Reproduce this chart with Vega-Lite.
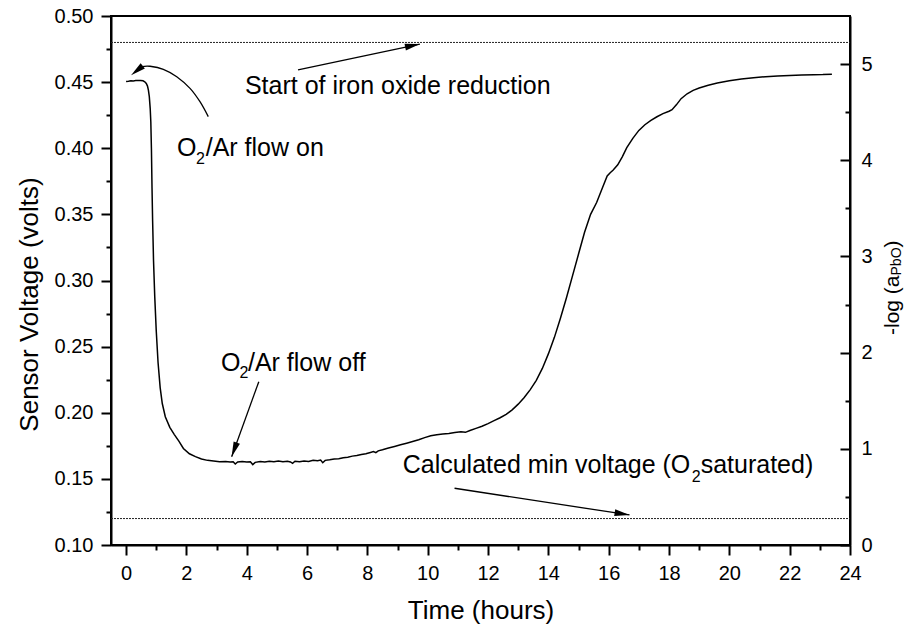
{
  "$schema": "https://vega.github.io/schema/vega-lite/v6.json",
  "width": 739,
  "height": 529,
  "autosize": "none",
  "padding": {"left": 111, "top": 16, "right": 54, "bottom": 83},
  "background": "white",
  "config": {
    "view": {"stroke": "black", "strokeWidth": 2},
    "font": "Liberation Sans",
    "axis": {
      "domainColor": "black", "domainWidth": 2, "tickColor": "black", "tickWidth": 2,
      "labelColor": "black", "titleColor": "black", "labelFont": "Liberation Sans",
      "titleFont": "Liberation Sans", "titleFontWeight": "normal", "grid": false,
      "labelFontSize": 20, "labelOverlap": false, "labelFlush": false, "labelBound": false
    }
  },
  "datasets": {
    "curve": [
      {"t":0.00,"v":0.4505},{"t":0.08,"v":0.4507},{"t":0.16,"v":0.4510},{"t":0.24,"v":0.4509},{"t":0.32,"v":0.4512},{"t":0.40,"v":0.4513},{"t":0.48,"v":0.4512},{"t":0.56,"v":0.4510},{"t":0.62,"v":0.4503},{"t":0.67,"v":0.4490},{"t":0.71,"v":0.4470},{"t":0.74,"v":0.4440},{"t":0.77,"v":0.4390},{"t":0.80,"v":0.4300},{"t":0.82,"v":0.4200},{"t":0.84,"v":0.4000},{"t":0.86,"v":0.3700},{"t":0.88,"v":0.3450},{"t":0.91,"v":0.3150},{"t":0.95,"v":0.2880},{"t":1.00,"v":0.2620},{"t":1.06,"v":0.2380},{"t":1.13,"v":0.2190},{"t":1.20,"v":0.2070},{"t":1.30,"v":0.1970},{"t":1.45,"v":0.1890},{"t":1.60,"v":0.1835},{"t":1.75,"v":0.1785},{"t":1.90,"v":0.1730},{"t":2.10,"v":0.1690},{"t":2.30,"v":0.1668},{"t":2.50,"v":0.1650},{"t":2.70,"v":0.1640},{"t":2.90,"v":0.1635},{"t":3.10,"v":0.1630},{"t":3.30,"v":0.1632},{"t":3.45,"v":0.1627},{"t":3.55,"v":0.1630},{"t":3.62,"v":0.1612},{"t":3.70,"v":0.1628},{"t":3.85,"v":0.1632},{"t":4.00,"v":0.1628},{"t":4.12,"v":0.1630},{"t":4.20,"v":0.1608},{"t":4.28,"v":0.1625},{"t":4.45,"v":0.1632},{"t":4.60,"v":0.1628},{"t":4.75,"v":0.1634},{"t":4.90,"v":0.1630},{"t":5.05,"v":0.1636},{"t":5.20,"v":0.1630},{"t":5.35,"v":0.1634},{"t":5.45,"v":0.1628},{"t":5.52,"v":0.1618},{"t":5.60,"v":0.1633},{"t":5.75,"v":0.1630},{"t":5.90,"v":0.1636},{"t":6.05,"v":0.1632},{"t":6.20,"v":0.1640},{"t":6.35,"v":0.1637},{"t":6.45,"v":0.1642},{"t":6.52,"v":0.1622},{"t":6.60,"v":0.1640},{"t":6.75,"v":0.1644},{"t":6.90,"v":0.1650},{"t":7.05,"v":0.1653},{"t":7.20,"v":0.1660},{"t":7.35,"v":0.1664},{"t":7.50,"v":0.1672},{"t":7.65,"v":0.1676},{"t":7.80,"v":0.1684},{"t":7.95,"v":0.1690},{"t":8.10,"v":0.1700},{"t":8.20,"v":0.1706},{"t":8.28,"v":0.1698},{"t":8.36,"v":0.1712},{"t":8.50,"v":0.1720},{"t":8.70,"v":0.1733},{"t":8.90,"v":0.1745},{"t":9.10,"v":0.1758},{"t":9.30,"v":0.1770},{"t":9.50,"v":0.1783},{"t":9.70,"v":0.1796},{"t":9.90,"v":0.1812},{"t":10.10,"v":0.1826},{"t":10.30,"v":0.1834},{"t":10.50,"v":0.1840},{"t":10.70,"v":0.1844},{"t":10.90,"v":0.1850},{"t":11.10,"v":0.1856},{"t":11.25,"v":0.1852},{"t":11.40,"v":0.1866},{"t":11.60,"v":0.1882},{"t":11.80,"v":0.1898},{"t":12.00,"v":0.1918},{"t":12.20,"v":0.1940},{"t":12.40,"v":0.1962},{"t":12.60,"v":0.1988},{"t":12.80,"v":0.2022},{"t":13.00,"v":0.2065},{"t":13.20,"v":0.2115},{"t":13.40,"v":0.2175},{"t":13.60,"v":0.2245},{"t":13.80,"v":0.2335},{"t":14.00,"v":0.2445},{"t":14.20,"v":0.2570},{"t":14.40,"v":0.2715},{"t":14.60,"v":0.2870},{"t":14.80,"v":0.3035},{"t":15.00,"v":0.3200},{"t":15.20,"v":0.3365},{"t":15.40,"v":0.3500},{"t":15.60,"v":0.3590},{"t":15.80,"v":0.3705},{"t":15.95,"v":0.3790},{"t":16.05,"v":0.3815},{"t":16.15,"v":0.3835},{"t":16.30,"v":0.3875},{"t":16.45,"v":0.3935},{"t":16.60,"v":0.4005},{"t":16.80,"v":0.4075},{"t":17.00,"v":0.4135},{"t":17.20,"v":0.4178},{"t":17.40,"v":0.4210},{"t":17.60,"v":0.4238},{"t":17.80,"v":0.4262},{"t":18.00,"v":0.4280},{"t":18.10,"v":0.4292},{"t":18.25,"v":0.4330},{"t":18.40,"v":0.4375},{"t":18.60,"v":0.4412},{"t":18.80,"v":0.4438},{"t":19.00,"v":0.4456},{"t":19.30,"v":0.4476},{"t":19.60,"v":0.4494},{"t":20.00,"v":0.4510},{"t":20.40,"v":0.4523},{"t":20.80,"v":0.4533},{"t":21.20,"v":0.4541},{"t":21.60,"v":0.4546},{"t":22.00,"v":0.4550},{"t":22.40,"v":0.4553},{"t":22.80,"v":0.4556},{"t":23.10,"v":0.4557},{"t":23.40,"v":0.4560}
    ],
    "refs": [
      {"id":"hi","t":-0.5,"v":0.48},{"id":"hi","t":24,"v":0.48},
      {"id":"lo","t":-0.5,"v":0.12},{"id":"lo","t":24,"v":0.12}
    ],
    "arrows": [
      {"id":"a1","i":0,"t":5.70,"v":0.4592},{"id":"a1","i":1,"t":9.74,"v":0.4788},
      {"id":"a2","i":0,"t":10.89,"v":0.1429},{"id":"a2","i":1,"t":16.69,"v":0.1227},
      {"id":"a3","i":0,"t":4.40,"v":0.2235},{"id":"a3","i":1,"t":3.50,"v":0.1668},
      {"id":"a4","i":0,"t":2.725,"v":0.4239},{"id":"a4","i":1,"t":2.45,"v":0.4352},{"id":"a4","i":2,"t":2.12,"v":0.4453},{"id":"a4","i":3,"t":1.68,"v":0.4541},{"id":"a4","i":4,"t":1.235,"v":0.4597},{"id":"a4","i":5,"t":0.795,"v":0.4620},{"id":"a4","i":6,"t":0.52,"v":0.4618}
    ],
    "heads": [
      {"t":9.74,"v":0.4788,"ang":78},
      {"t":16.69,"v":0.1227,"ang":99},
      {"t":3.50,"v":0.1668,"ang":200},
      {"t":0.166,"v":0.4552,"ang":231}
    ],
    "notes": [
      {"kind":"main","txt":"Start of iron oxide reduction","t":3.94,"v":0.4408},
      {"kind":"main","txt":"O","t":1.69,"v":0.3939},
      {"kind":"sub","txt":"2","t":2.32,"v":0.3880},
      {"kind":"main","txt":"/Ar flow on","t":2.64,"v":0.3939},
      {"kind":"main","txt":"O","t":3.15,"v":0.2319},
      {"kind":"sub","txt":"2","t":3.76,"v":0.2265},
      {"kind":"main","txt":"/Ar flow off","t":4.04,"v":0.2319},
      {"kind":"main","txt":"Calculated min voltage (O","t":9.17,"v":0.1544},
      {"kind":"sub","txt":"2","t":18.75,"v":0.1479},
      {"kind":"main","txt":"saturated)","t":19.05,"v":0.1544},
      {"kind":"rt","txt":"-log (a","t":25.63,"v":0.2588},
      {"kind":"rsub","txt":"PbO","t":25.70,"v":0.3038},
      {"kind":"rt","txt":")","t":25.63,"v":0.3250}
    ],
    "rax": [{"r":0},{"r":5.5}]
  },
  "layer": [
    {
      "encoding": {
        "x": {
          "field": "t", "type": "quantitative",
          "scale": {"domain": [-0.5, 24], "nice": false, "zero": false},
          "axis": {
            "values": [0,1,2,3,4,5,6,7,8,9,10,11,12,13,14,15,16,17,18,19,20,21,22,23,24],
            "labelExpr": "datum.value % 2 == 0 ? datum.label : ''",
            "tickSize": {"condition": {"test": "datum.value % 2 == 0", "value": 10}, "value": 5},
            "labelPadding": 8,
            "title": "Time (hours)", "titleFontSize": 26, "titlePadding": 14
          }
        },
        "y": {
          "field": "v", "type": "quantitative",
          "scale": {"domain": [0.1, 0.5], "nice": false, "zero": false},
          "axis": {
            "orient": "left",
            "values": [0.1,0.125,0.15,0.175,0.2,0.225,0.25,0.275,0.3,0.325,0.35,0.375,0.4,0.425,0.45,0.475,0.5],
            "format": ".2f",
            "labelExpr": "abs(datum.value*20 - round(datum.value*20)) < 0.001 ? datum.label : ''",
            "tickSize": {"condition": {"test": "abs(datum.value*20 - round(datum.value*20)) < 0.001", "value": 10}, "value": 5},
            "labelPadding": 8,
            "title": "Sensor Voltage (volts)", "titleFontSize": 26, "titlePadding": 12, "titleY": 288
          }
        }
      },
      "layer": [
        {
          "data": {"name": "refs"},
          "mark": {"type": "line", "color": "#222", "strokeWidth": 1, "strokeDash": [2, 1]},
          "encoding": {"detail": {"field": "id"}}
        },
        {
          "data": {"name": "curve"},
          "mark": {"type": "line", "color": "black", "strokeWidth": 1.5},
          "encoding": {}
        },
        {
          "data": {"name": "arrows"},
          "mark": {"type": "line", "color": "black", "strokeWidth": 1.3, "interpolate": "cardinal"},
          "encoding": {"detail": {"field": "id"}, "order": {"field": "i", "type": "quantitative"}}
        },
        {
          "data": {"name": "heads"},
          "mark": {"type": "point", "shape": "M0,0L-0.45,2L0.45,2Z", "filled": true, "color": "black", "opacity": 1, "size": 225, "strokeWidth": 0},
          "encoding": {"angle": {"field": "ang", "type": "quantitative", "scale": null}}
        },
        {
          "data": {"name": "notes"},
          "transform": [{"filter": "datum.kind == 'main'"}],
          "mark": {"type": "text", "align": "left", "baseline": "alphabetic", "fontSize": 25, "font": "Liberation Sans", "color": "black"},
          "encoding": {"text": {"field": "txt"}}
        },
        {
          "data": {"name": "notes"},
          "transform": [{"filter": "datum.kind == 'sub'"}],
          "mark": {"type": "text", "align": "left", "baseline": "alphabetic", "fontSize": 16, "font": "Liberation Sans", "color": "black"},
          "encoding": {"text": {"field": "txt"}}
        },
        {
          "data": {"name": "notes"},
          "transform": [{"filter": "datum.kind == 'rt'"}],
          "mark": {"type": "text", "align": "left", "baseline": "alphabetic", "fontSize": 21, "angle": 270, "font": "Liberation Sans", "color": "black"},
          "encoding": {"text": {"field": "txt"}}
        },
        {
          "data": {"name": "notes"},
          "transform": [{"filter": "datum.kind == 'rsub'"}],
          "mark": {"type": "text", "align": "left", "baseline": "alphabetic", "fontSize": 14, "angle": 270, "font": "Liberation Sans", "color": "black"},
          "encoding": {"text": {"field": "txt"}}
        }
      ]
    },
    {
      "data": {"name": "rax"},
      "mark": {"type": "point", "opacity": 0},
      "encoding": {
        "y": {
          "field": "r", "type": "quantitative",
          "scale": {"domain": [0, 5.5], "nice": false, "zero": false},
          "axis": {
            "orient": "right",
            "values": [0,0.5,1,1.5,2,2.5,3,3.5,4,4.5,5],
            "format": ".0f",
            "labelExpr": "datum.value % 1 == 0 ? datum.label : ''",
            "tickSize": {"condition": {"test": "datum.value % 1 == 0", "value": -10}, "value": -5},
            "labelPadding": 21,
            "title": null
          }
        }
      }
    }
  ],
  "resolve": {"scale": {"y": "independent"}}
}
